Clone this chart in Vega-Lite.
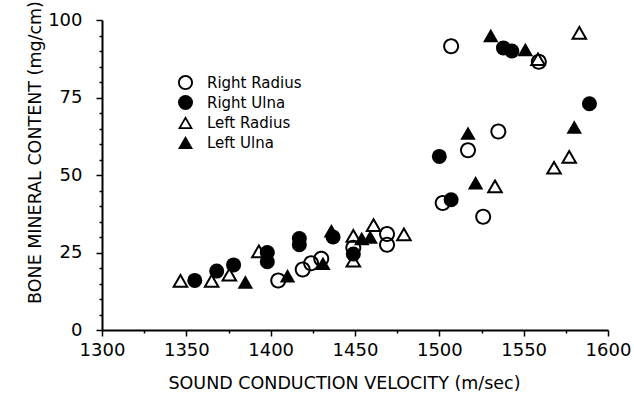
{
  "$schema": "https://vega.github.io/schema/vega-lite/v6.json",
  "width": 506,
  "height": 310,
  "autosize": {"type": "none"},
  "padding": {"left": 102, "top": 20, "right": 26, "bottom": 64},
  "background": "white",
  "config": {
    "view": {"stroke": null},
    "font": "DejaVu Sans",
    "axis": {
      "domainColor": "black", "domainWidth": 2, "tickColor": "black", "tickWidth": 1.5,
      "grid": false, "labelColor": "black", "titleColor": "black",
      "labelFont": "DejaVu Sans", "titleFont": "DejaVu Sans", "titleFontWeight": "normal",
      "labelFontSize": 18, "titleFontSize": 17.5, "labelFlush": false, "labelOverlap": false
    }
  },
  "data": {
    "values": [
      {"series": "Right Radius", "v": 1507, "bmc": 91.5},
      {"series": "Right Radius", "v": 1559, "bmc": 86.5},
      {"series": "Right Radius", "v": 1535, "bmc": 64},
      {"series": "Right Radius", "v": 1517, "bmc": 58},
      {"series": "Right Radius", "v": 1502, "bmc": 41},
      {"series": "Right Radius", "v": 1526, "bmc": 36.5},
      {"series": "Right Radius", "v": 1404.5, "bmc": 16},
      {"series": "Right Radius", "v": 1419, "bmc": 19.5},
      {"series": "Right Radius", "v": 1424, "bmc": 21.5},
      {"series": "Right Radius", "v": 1430, "bmc": 23},
      {"series": "Right Radius", "v": 1449, "bmc": 26.5},
      {"series": "Right Radius", "v": 1469, "bmc": 31},
      {"series": "Right Radius", "v": 1469, "bmc": 27.5},
      {"series": "Right Ulna", "v": 1538, "bmc": 91},
      {"series": "Right Ulna", "v": 1543, "bmc": 90},
      {"series": "Right Ulna", "v": 1589, "bmc": 73},
      {"series": "Right Ulna", "v": 1500, "bmc": 56},
      {"series": "Right Ulna", "v": 1507, "bmc": 42},
      {"series": "Right Ulna", "v": 1355, "bmc": 16},
      {"series": "Right Ulna", "v": 1368, "bmc": 19},
      {"series": "Right Ulna", "v": 1378, "bmc": 21},
      {"series": "Right Ulna", "v": 1398, "bmc": 25},
      {"series": "Right Ulna", "v": 1398, "bmc": 22},
      {"series": "Right Ulna", "v": 1417, "bmc": 29.5},
      {"series": "Right Ulna", "v": 1417, "bmc": 27.5},
      {"series": "Right Ulna", "v": 1437, "bmc": 30},
      {"series": "Right Ulna", "v": 1449, "bmc": 24.5},
      {"series": "Left Radius", "v": 1558.5, "bmc": 87.5},
      {"series": "Left Radius", "v": 1583, "bmc": 96},
      {"series": "Left Radius", "v": 1577, "bmc": 56},
      {"series": "Left Radius", "v": 1568, "bmc": 52.5},
      {"series": "Left Radius", "v": 1533, "bmc": 46.5},
      {"series": "Left Radius", "v": 1346.5, "bmc": 16},
      {"series": "Left Radius", "v": 1365, "bmc": 16},
      {"series": "Left Radius", "v": 1375.5, "bmc": 18},
      {"series": "Left Radius", "v": 1393, "bmc": 25.5},
      {"series": "Left Radius", "v": 1449, "bmc": 30.5},
      {"series": "Left Radius", "v": 1449, "bmc": 22.5},
      {"series": "Left Radius", "v": 1461, "bmc": 34},
      {"series": "Left Radius", "v": 1479, "bmc": 31},
      {"series": "Left Ulna", "v": 1530.5, "bmc": 95},
      {"series": "Left Ulna", "v": 1551, "bmc": 90.5},
      {"series": "Left Ulna", "v": 1580, "bmc": 65.5},
      {"series": "Left Ulna", "v": 1517, "bmc": 63.5},
      {"series": "Left Ulna", "v": 1521.5, "bmc": 47.5},
      {"series": "Left Ulna", "v": 1385, "bmc": 15.5},
      {"series": "Left Ulna", "v": 1410, "bmc": 17.5},
      {"series": "Left Ulna", "v": 1431, "bmc": 21.5},
      {"series": "Left Ulna", "v": 1436, "bmc": 32},
      {"series": "Left Ulna", "v": 1454, "bmc": 29.5},
      {"series": "Left Ulna", "v": 1459, "bmc": 30}
    ]
  },
  "encoding": {
    "x": {
      "field": "v", "type": "quantitative",
      "scale": {"domain": [1300, 1600], "nice": false, "zero": false},
      "axis": {
        "title": "SOUND CONDUCTION VELOCITY (m/sec)",
        "values": [1300, 1325, 1350, 1375, 1400, 1425, 1450, 1475, 1500, 1525, 1550, 1575, 1600],
        "labelExpr": "datum.value % 50 === 0 ? datum.label : ''",
        "format": "d",
        "tickSize": {"condition": {"test": "datum.value % 50 === 0", "value": 6}, "value": 3},
        "labelPadding": 5,
        "titleX": 242, "titleY": 53, "titleBaseline": "middle"
      }
    },
    "y": {
      "field": "bmc", "type": "quantitative",
      "scale": {"domain": [0, 100], "nice": false},
      "axis": {
        "title": "BONE MINERAL CONTENT (mg/cm)",
        "values": [0, 5, 10, 15, 20, 25, 30, 35, 40, 45, 50, 55, 60, 65, 70, 75, 80, 85, 90, 95, 100],
        "labelExpr": "datum.value % 25 === 0 ? datum.label : ''",
        "tickSize": {"condition": {"test": "datum.value % 25 === 0", "value": 6}, "value": 3},
        "labelPadding": 14,
        "titleX": -67, "titleY": 132, "titleBaseline": "middle", "titleAlign": "center"
      }
    },
    "shape": {
      "field": "series", "type": "nominal",
      "scale": {
        "domain": ["Right Radius", "Right Ulna", "Left Radius", "Left Ulna"],
        "range": [
          "M-1,0A1,1,0,1,1,1,0A1,1,0,1,1,-1,0ZM-0.75,0A0.75,0.75,0,1,0,0.75,0A0.75,0.75,0,1,0,-0.75,0Z",
          "circle",
          "M0,-0.866L1,0.866L-1,0.866ZM0,-0.396L-0.593,0.631L0.593,0.631Z",
          "triangle-up"
        ]
      },
      "legend": {
        "title": null, "orient": "none", "legendX": 76, "legendY": 55,
        "symbolSize": 225, "symbolStrokeWidth": 0, "symbolFillColor": "black",
        "labelFontSize": 15, "labelFont": "DejaVu Sans", "labelColor": "black",
        "labelOffset": 14, "rowPadding": 4
      }
    }
  },
  "layer": [
    {
      "transform": [{"filter": "datum.series === 'Right Radius'"}],
      "mark": {"type": "point", "filled": true, "color": "black", "strokeWidth": 0, "opacity": 1, "size": 256}
    },
    {
      "transform": [{"filter": "datum.series === 'Right Ulna'"}],
      "mark": {"type": "point", "filled": true, "color": "black", "strokeWidth": 0, "opacity": 1, "size": 225}
    },
    {
      "transform": [{"filter": "datum.series === 'Left Radius'"}],
      "mark": {"type": "point", "filled": true, "color": "black", "strokeWidth": 0, "opacity": 1, "size": 289}
    },
    {
      "transform": [{"filter": "datum.series === 'Left Ulna'"}],
      "mark": {"type": "point", "filled": true, "color": "black", "strokeWidth": 0, "opacity": 1, "size": 240}
    }
  ]
}
